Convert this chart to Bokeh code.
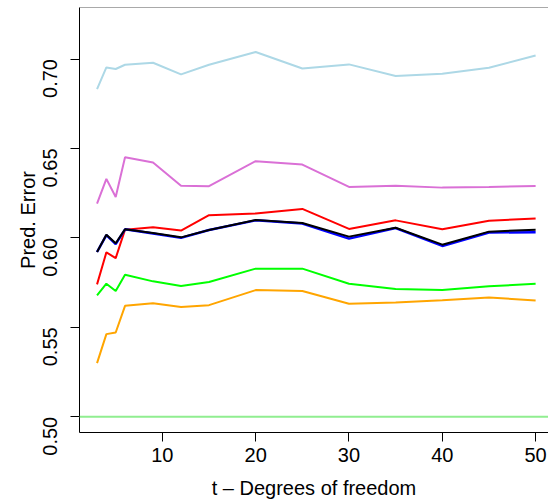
import math
from bokeh.plotting import figure
from bokeh.models import FixedTicker, NumeralTickFormatter, Span, Range1d
from bokeh.embed import file_html
from bokeh.resources import INLINE

# ---- data ----
df = [3, 4, 5, 6, 9, 12, 15, 20, 25, 30, 35, 40, 45, 50]
lightblue_err = [0.6832, 0.6953, 0.6944, 0.6968, 0.6979, 0.6914, 0.6968, 0.7039, 0.6947, 0.6970, 0.6905, 0.6918, 0.6951, 0.7020]
orchid_err = [0.6191, 0.6330, 0.6229, 0.6451, 0.6421, 0.6292, 0.6289, 0.6429, 0.6410, 0.6285, 0.6292, 0.6281, 0.6285, 0.6290]
red_err = [0.5740, 0.5919, 0.5887, 0.6046, 0.6059, 0.6041, 0.6127, 0.6136, 0.6162, 0.6050, 0.6098, 0.6048, 0.6096, 0.6108]
blue_err = [0.5921, 0.6015, 0.5965, 0.6048, 0.6025, 0.6000, 0.6044, 0.6098, 0.6080, 0.5996, 0.6055, 0.5955, 0.6030, 0.6032]
black_err = [0.5921, 0.6018, 0.5970, 0.6048, 0.6027, 0.6003, 0.6044, 0.6100, 0.6083, 0.6007, 0.6057, 0.5962, 0.6035, 0.6046]
green_err = [0.5679, 0.5744, 0.5703, 0.5794, 0.5757, 0.5731, 0.5753, 0.5828, 0.5828, 0.5744, 0.5714, 0.5708, 0.5729, 0.5744]
orange_err = [0.5300, 0.5462, 0.5471, 0.5620, 0.5635, 0.5613, 0.5624, 0.5708, 0.5703, 0.5632, 0.5639, 0.5652, 0.5667, 0.5650]
baseline = 0.50
x_ticks = [10, 20, 30, 40, 50]
y_ticks = [0.50, 0.55, 0.60, 0.65, 0.70]
x_title = "t \u2013 Degrees of freedom"
y_title = "Pred. Error"

FONT = "Liberation Sans"
X0, X1 = 1.12, 51.38
Y0, Y1 = 0.4912, 0.7288

p = figure(width=548, height=503, output_backend="svg", toolbar_location=None,
           x_range=Range1d(X0, X1), y_range=Range1d(Y0, Y1),
           min_border_left=79, min_border_right=0, min_border_top=7, min_border_bottom=71)
p.grid.visible = False
p.outline_line_color = None
p.background_fill_color = "white"
p.border_fill_color = "white"

series = [
    (lightblue_err, "#ADD8E6", 2),
    (orchid_err, "#DA70D6", 2),
    (red_err, "#FF0000", 2),
    (green_err, "#00FF00", 2),
    (orange_err, "#FFA500", 2),
    (blue_err, "#0000FF", 2.5),
    (black_err, "#000000", 2),
]
for ys, c, w in series:
    p.line(df, ys, line_color=c, line_width=w)

p.add_layout(Span(location=baseline, dimension="width", line_color="#90EE90", line_width=2))
p.add_layout(Span(location=Y1, dimension="width", line_color="#555555", line_width=1))

for ax in (p.xaxis[0], p.yaxis[0]):
    ax.axis_line_color = "black"
    ax.axis_line_width = 1
    ax.major_tick_in = 0
    ax.major_tick_out = 9
    ax.minor_tick_line_color = None
    ax.major_label_text_font = FONT
    ax.major_label_text_font_size = "20px"
    ax.major_label_text_color = "black"
    ax.axis_label_text_font = FONT
    ax.axis_label_text_font_size = "20px"
    ax.axis_label_text_font_style = "normal"
    ax.axis_label_text_color = "black"

p.xaxis.ticker = FixedTicker(ticks=x_ticks)
p.yaxis.ticker = FixedTicker(ticks=y_ticks)
p.yaxis.formatter = NumeralTickFormatter(format="0.00")
p.yaxis.major_label_orientation = math.pi / 2
p.xaxis.axis_label = x_title
p.yaxis.axis_label = y_title
p.xaxis.major_label_standoff = 6
p.xaxis.axis_label_standoff = 12
p.yaxis.major_label_standoff = 20
p.yaxis.axis_label_standoff = -5

open("out.html", "w").write(file_html(p, INLINE))
